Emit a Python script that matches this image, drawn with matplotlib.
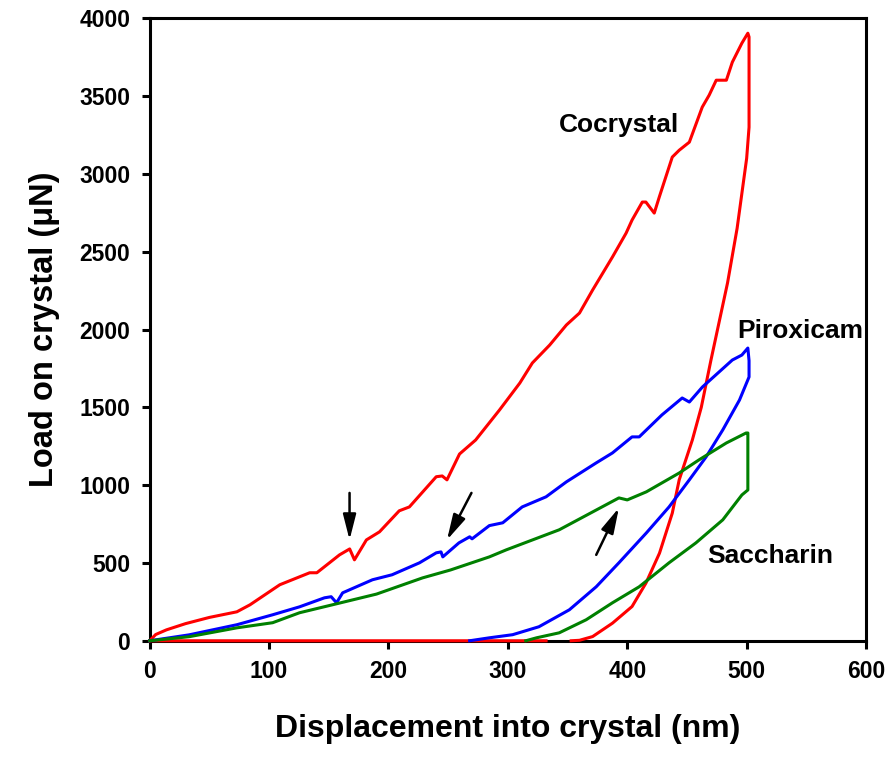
import numpy as np
import matplotlib
matplotlib.use("Agg")
import matplotlib.pyplot as plt

plt.rcParams['font.family'] = ['Liberation Sans', 'DejaVu Sans']
plt.rcParams['font.weight'] = 'bold'

# Cocrystal (red): loading, hold, unloading, then baseline
coc_x = [0, 5, 14, 30, 50, 73, 84, 109, 134, 140, 159, 167.5, 171.5, 181.5, 192.5, 209, 217.5,
         240, 245, 249, 259.5, 273, 293, 310, 320.5, 335, 349, 360, 371, 387.6, 399, 404,
         412.6, 415.6, 422.6, 426.8, 437.7, 443.5, 452, 462.8, 468.6, 474.5, 483, 488, 496, 501,
         502, 502, 502, 500, 492, 484, 477, 470, 462, 454.5, 443.5, 437.7, 427, 415.6, 404,
         387.6, 371, 360, 353, np.nan, 332, 0]
coc_y = [0, 40, 70, 110, 150, 186, 231, 360, 437, 437, 552, 590, 520, 648, 700, 835, 860,
         1054, 1059, 1034, 1200, 1290, 1483, 1656, 1785, 1900, 2029, 2106, 2254, 2466, 2619, 2703,
         2819, 2819, 2748, 2851, 3108, 3152, 3204, 3429, 3506, 3602, 3602, 3718, 3840, 3904,
         3880, 3600, 3300, 3100, 2650, 2300, 2050, 1800, 1500, 1290, 1034, 820, 563, 370, 220,
         113, 27, 3, 0, np.nan, 0, 0]

# Piroxicam (blue)
pir_x = [0, 33, 73, 103, 125.5, 146.4, 152, 156.5, 161.6, 186.6, 203, 226, 240, 244, 245.5,
         259, 268, 270, 284.5, 295.7, 312, 332, 349, 374, 387.6, 404, 410, 429, 446, 452, 463,
         488, 496, 501, 502, 502, 494, 480, 466, 452, 435, 416, 393, 374, 351.5, 326, 304,
         284.5, 268]
pir_y = [0, 38, 103, 167, 218, 276, 283, 244, 308, 392, 424, 501, 565, 571, 539,
         629, 668, 655, 740, 758, 860, 925, 1021, 1143, 1207, 1310, 1310, 1451, 1560, 1534, 1631,
         1804, 1836, 1881, 1800, 1695, 1547, 1355, 1181, 1034, 860, 693, 501, 347, 199, 90, 39,
         19, 0]

# Saccharin (green)
sac_x = [0, 33, 73, 103, 125.5, 153, 190, 228.5, 252, 284.5, 298.6, 343, 393, 400, 416,
         443.5, 460, 483, 499.5, 501, 501, 496, 480, 457.5, 435, 410, 387.6, 365.6, 343, 324, 315]
sac_y = [0, 26, 83, 116, 180, 231, 300, 404, 455, 539, 584, 713, 918, 905, 957,
         1078, 1162, 1271, 1335, 1335, 969, 937, 777, 629, 501, 347, 244, 135, 51, 19, 0]

labels = ["Cocrystal", "Piroxicam", "Saccharin"]
label_pos = [(393, 3313), (545, 1990), (520, 546)]

# arrows: (tail_x, tail_y, head_x, head_y)
arrows = [(167.4, 950, 167.4, 648), (269.5, 950, 249, 648), (374, 552, 393, 854)]

x_ticks = [0, 100, 200, 300, 400, 500, 600]
y_ticks = [0, 500, 1000, 1500, 2000, 2500, 3000, 3500, 4000]

fig = plt.figure(figsize=(8.91, 7.61), dpi=100)
ax = fig.add_axes([0.168, 0.158, 0.804, 0.818])

ax.plot(coc_x, coc_y, color='#ff0000', lw=2.2, solid_joinstyle='round', zorder=3, clip_on=False)
ax.plot(pir_x, pir_y, color='#0000ff', lw=2.2, solid_joinstyle='round', zorder=3.1, clip_on=False)
ax.plot(sac_x, sac_y, color='#008000', lw=2.2, solid_joinstyle='round', zorder=3.2, clip_on=False)

for t, (lx, ly) in zip(labels, label_pos):
    ax.text(lx, ly, t, ha='center', va='center', fontsize=19, fontweight='bold')

for tx, ty, hx, hy in arrows:
    ax.annotate('', xy=(hx, hy), xytext=(tx, ty),
                arrowprops=dict(arrowstyle='-|>,head_length=1.1,head_width=0.28',
                                color='black', lw=1.8, mutation_scale=14,
                                shrinkA=0, shrinkB=0))

ax.set_xlim(0, 600)
ax.set_ylim(0, 4000)
ax.set_xticks(x_ticks)
ax.set_yticks(y_ticks)
ax.tick_params(direction='out', length=6, width=2.2, labelsize=16.5, pad=8)
for lab in ax.get_xticklabels() + ax.get_yticklabels():
    lab.set_fontweight('bold')
for s in ax.spines.values():
    s.set_linewidth(2.2)

ax.set_xlabel('Displacement into crystal (nm)', fontsize=23, fontweight='bold', labelpad=22)
ax.set_ylabel('Load on crystal (\u03bcN)', fontsize=23.5, fontweight='bold', labelpad=14)

fig.savefig('out.png', dpi=100)
